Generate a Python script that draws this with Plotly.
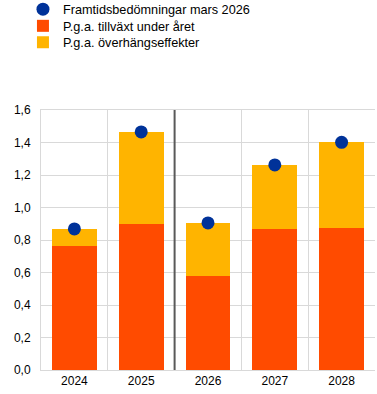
import plotly.graph_objects as go

years = ["2024", "2025", "2026", "2027", "2028"]
growth = [0.763, 0.898, 0.578, 0.868, 0.874]
carryover = [0.105, 0.567, 0.327, 0.394, 0.527]
forecast = [0.868, 1.465, 0.905, 1.262, 1.401]

fig = go.Figure()
fig.add_trace(go.Scatter(x=years, y=forecast, mode="markers", name="Framtidsbedömningar mars 2026",
                         marker=dict(color="#003299", size=13), legend="legend"))
fig.add_trace(go.Bar(x=years, y=growth, name="P.g.a. tillväxt under året", marker_color="#FF4B00",
                     marker_line_width=0, legend="legend2"))
fig.add_trace(go.Bar(x=years, y=carryover, name="P.g.a. överhängseffekter", marker_color="#FFB400",
                     marker_line_width=0, legend="legend3"))

fig.add_shape(type="line", xref="x", yref="paper", x0=1.5, x1=1.5, y0=0, y1=1,
              line=dict(color="#595959", width=2))

leg_common = dict(x=-0.054, xanchor="left", yanchor="top", font=dict(size=12.7),
                  bgcolor="rgba(0,0,0,0)", itemclick=False)

fig.update_layout(
    width=377, height=394,
    margin=dict(l=41, r=2, t=110, b=24, autoexpand=False),
    barmode="stack", bargap=0.33,
    plot_bgcolor="white", paper_bgcolor="white",
    separators=", ",
    font=dict(family="Liberation Sans, Arial", size=12, color="#000000"),
    showlegend=True,
    legend=dict(y=1.4445, **leg_common),
    legend2=dict(y=1.3805, **leg_common),
    legend3=dict(y=1.3175, **leg_common),
    xaxis=dict(type="category", tickson="boundaries", showgrid=True, gridcolor="#d9d9d9",
               showline=True, linecolor="#d9d9d9", mirror=True, ticks="", ticklen=0,
               tickfont=dict(size=12)),
    yaxis=dict(range=[0, 1.6], dtick=0.2, tickformat=".1f", showgrid=True, gridcolor="#d9d9d9",
               showline=True, linecolor="#d9d9d9", zeroline=False, tickfont=dict(size=12),
               ticks="outside", ticklen=7, tickcolor="rgba(0,0,0,0)"),
)

fig.write_html("out.html", config={"displayModeBar": False},
               post_script="document.body.style.margin='0px';")
